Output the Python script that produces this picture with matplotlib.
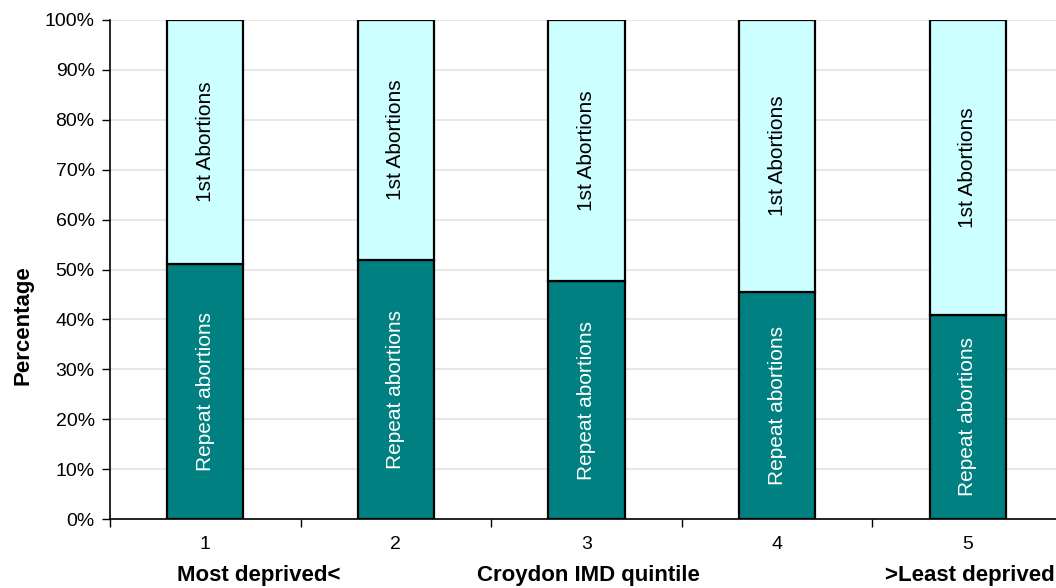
import numpy as np
import matplotlib
matplotlib.use("Agg")
import matplotlib.pyplot as plt
from matplotlib.ticker import PercentFormatter

plt.rcParams['font.family'] = ['Liberation Sans', 'DejaVu Sans']

# Data
quintiles = ['1', '2', '3', '4', '5']
repeat_pct = [51.1, 52.0, 47.6, 45.5, 40.9]
first_pct = [100 - v for v in repeat_pct]
series_labels = ['Repeat abortions', '1st Abortions']
x_group_labels = ['Most deprived<', 'Croydon IMD quintile', '>Least deprived']
ylabel = 'Percentage'

teal = '#008080'
light = '#CCFFFF'

W, H = 1056, 588
fig = plt.figure(figsize=(W / 100, H / 100), dpi=100)
ax = fig.add_axes([110 / W, 69 / H, 953 / W, 499 / H])

x = np.arange(len(quintiles))
bw = 0.40
ax.bar(x, repeat_pct, bw, color=teal, edgecolor='black', linewidth=1.6, zorder=3)
ax.bar(x, first_pct, bw, bottom=repeat_pct, color=light, edgecolor='black',
       linewidth=1.6, zorder=3)

for xi, r, f in zip(x, repeat_pct, first_pct):
    ax.text(xi, r / 2, series_labels[0], rotation=90, ha='center', va='center',
            color='white', fontsize=15, zorder=4)
    ax.text(xi, r + f / 2, series_labels[1], rotation=90, ha='center', va='center',
            color='black', fontsize=15, zorder=4)

ax.set_xlim(-0.5, len(quintiles) - 0.5)
ax.set_ylim(0, 100)
ax.set_yticks(np.arange(0, 101, 10))
ax.yaxis.set_major_formatter(PercentFormatter(decimals=0))
ax.grid(axis='y', color='#e3e3e3', linewidth=1.2, zorder=0)

ax.set_xticks(np.arange(-0.5, len(quintiles), 1))
ax.set_xticklabels([])
ax.set_xticks(x, minor=True)
ax.set_xticklabels(quintiles, minor=True)
ax.tick_params(axis='x', which='major', length=6, width=1, color='black')
ax.tick_params(axis='x', which='minor', length=0, pad=12, labelsize=14)
ax.tick_params(axis='y', length=6, width=1, labelsize=14, pad=5)

for s in ['top', 'right']:
    ax.spines[s].set_visible(False)
for s in ['left', 'bottom']:
    ax.spines[s].set_color('black')
    ax.spines[s].set_linewidth(1.2)

fig.text(23 / W, 1 - 325 / H, ylabel, rotation=90, ha='center', va='center',
         fontsize=16, fontweight='bold')
ty = 1 - 576 / H
fig.text(259 / W, ty, x_group_labels[0], ha='center', va='center',
         fontsize=16, fontweight='bold')
fig.text(588 / W, ty, x_group_labels[1], ha='center', va='center',
         fontsize=16, fontweight='bold')
fig.text(970 / W, ty, x_group_labels[2], ha='center', va='center',
         fontsize=16, fontweight='bold')

fig.savefig('out.png', dpi=100)
